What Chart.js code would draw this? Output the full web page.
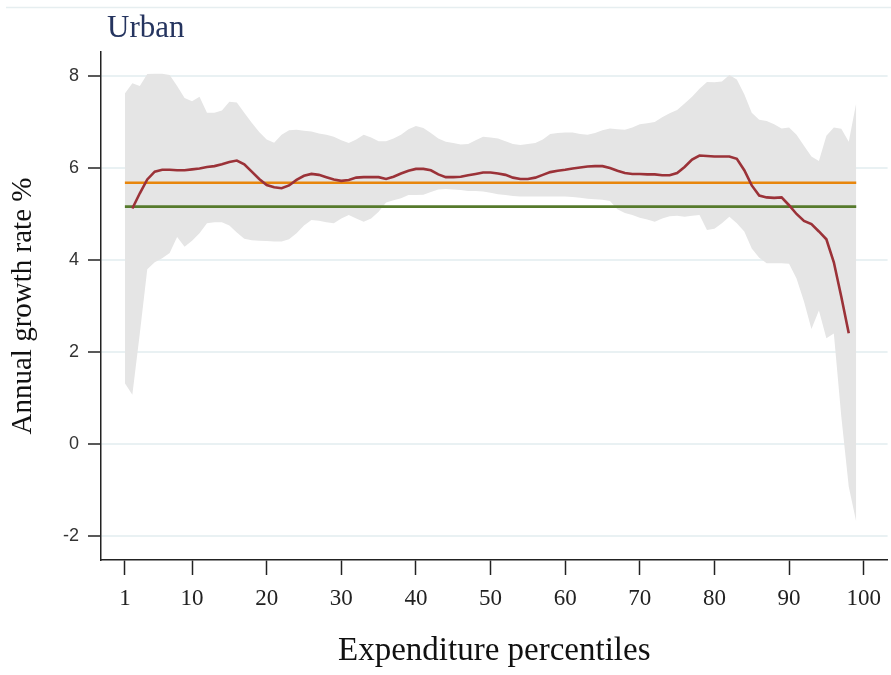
<!DOCTYPE html>
<html>
<head>
<meta charset="utf-8">
<script src="https://cdn.jsdelivr.net/npm/chart.js@4.4.1/dist/chart.umd.min.js"></script>
<style>
  html, body { margin: 0; padding: 0; background: #fff; }
  #wrap { width: 891px; height: 675px; position: relative; }
</style>
</head>
<body>
<div id="wrap"><canvas id="gic"></canvas></div>
<script>
// percentiles 1..99
const percentiles = [1,2,3,4,5,6,7,8,9,10,11,12,13,14,15,16,17,18,19,20,21,22,23,24,25,26,27,28,29,30,
  31,32,33,34,35,36,37,38,39,40,41,42,43,44,45,46,47,48,49,50,51,52,53,54,55,56,57,58,59,60,
  61,62,63,64,65,66,67,68,69,70,71,72,73,74,75,76,77,78,79,80,81,82,83,84,85,86,87,88,89,90,
  91,92,93,94,95,96,97,98,99];

// growth incidence curve (null where no estimate)
const growth = [null,5.12,5.45,5.75,5.92,5.96,5.96,5.95,5.95,5.97,5.99,6.02,6.04,6.08,6.13,6.16,6.08,5.92,5.76,5.63,
  5.58,5.56,5.62,5.74,5.83,5.87,5.85,5.80,5.75,5.72,5.74,5.79,5.80,5.80,5.80,5.76,5.81,5.88,5.94,5.98,
  5.98,5.95,5.86,5.80,5.80,5.81,5.84,5.87,5.90,5.90,5.88,5.85,5.79,5.76,5.76,5.79,5.85,5.91,5.94,5.96,
  5.99,6.01,6.03,6.04,6.04,6.00,5.94,5.89,5.87,5.87,5.86,5.86,5.84,5.84,5.89,6.02,6.18,6.27,6.26,6.25,
  6.25,6.25,6.20,5.95,5.62,5.40,5.36,5.35,5.36,5.19,5.00,4.85,4.78,4.62,4.45,3.95,3.20,2.41,null];

// confidence band
const ciUpper = [7.62,7.84,7.78,8.04,8.05,8.05,8.02,7.78,7.52,7.45,7.55,7.20,7.20,7.25,7.44,7.42,7.20,6.98,6.78,6.62,
  6.55,6.72,6.82,6.83,6.81,6.79,6.75,6.72,6.68,6.60,6.54,6.62,6.72,6.66,6.58,6.58,6.64,6.72,6.84,6.91,
  6.87,6.76,6.64,6.57,6.54,6.51,6.52,6.60,6.68,6.66,6.64,6.58,6.52,6.50,6.52,6.54,6.62,6.74,6.76,6.77,
  6.77,6.74,6.72,6.76,6.82,6.86,6.84,6.83,6.88,6.95,6.97,7.00,7.10,7.19,7.26,7.40,7.55,7.72,7.87,7.86,
  7.88,8.02,7.92,7.60,7.20,7.05,7.02,6.95,6.86,6.88,6.72,6.48,6.25,6.15,6.70,6.88,6.85,6.57,7.41];
const ciLower = [1.32,1.07,2.40,3.80,3.95,4.04,4.15,4.50,4.29,4.42,4.58,4.80,4.82,4.82,4.75,4.60,4.46,4.43,4.42,4.41,
  4.40,4.40,4.45,4.58,4.75,4.87,4.85,4.82,4.80,4.90,4.98,4.90,4.83,4.90,5.05,5.25,5.30,5.34,5.41,5.41,
  5.42,5.48,5.53,5.54,5.53,5.52,5.50,5.50,5.49,5.46,5.43,5.41,5.39,5.38,5.38,5.38,5.38,5.38,5.38,5.38,
  5.37,5.35,5.33,5.32,5.31,5.28,5.10,5.02,4.98,4.92,4.88,4.83,4.90,4.95,4.96,4.94,4.96,4.98,4.65,4.68,
  4.80,4.94,4.80,4.62,4.25,4.05,3.93,3.93,3.93,3.92,3.60,3.10,2.50,2.90,2.30,2.40,0.60,-0.93,-1.69];

// reference lines
const growthInMean = 5.68;
const meanOfGrowth = 5.16;
const refRange = [1, 99];

const xTicks = [1,10,20,30,40,50,60,70,80,90,100];
const yTicks = [-2,0,2,4,6,8];

function pts(vals) {
  return percentiles.map((p, i) => ({ x: p, y: vals[i] }));
}
function flat(v) {
  return refRange.map(p => ({ x: p, y: v }));
}

// titre du panneau + filet du haut
const panelDeco = {
  id: 'panelDeco',
  afterDraw(chart) {
    const c = chart.ctx;
    c.save();
    c.strokeStyle = '#e6eef0';
    c.lineWidth = 1.5;
    c.beginPath();
    c.moveTo(6, 7.5);
    c.lineTo(891, 7.5);
    c.stroke();
    c.fillStyle = '#25345f';
    c.font = '31px "Liberation Serif", serif';
    c.textBaseline = 'alphabetic';
    c.fillText('Urban', 107, 37);
    c.restore();
  }
};

const serif = '"Liberation Serif", "Times New Roman", serif';
const sans = '"Liberation Sans", Arial, sans-serif';

new Chart(document.getElementById('gic'), {
  type: 'line',
  data: {
    datasets: [
      { label: 'Growth incidence', data: pts(growth), borderColor: '#9b3238', borderWidth: 2.6,
        pointRadius: 0, fill: false, tension: 0, order: 0, spanGaps: false },
      { label: 'Growth in mean', data: flat(growthInMean), borderColor: '#e8860c', borderWidth: 2.6,
        pointRadius: 0, fill: false, order: 1 },
      { label: 'Mean of growth rates', data: flat(meanOfGrowth), borderColor: '#567a2c', borderWidth: 2.6,
        pointRadius: 0, fill: false, order: 2 },
      { label: 'CI upper', data: pts(ciUpper), borderWidth: 0, borderColor: 'rgba(0,0,0,0)',
        backgroundColor: '#e5e5e5', pointRadius: 0, fill: '+1', tension: 0, order: 3 },
      { label: 'CI lower', data: pts(ciLower), borderWidth: 0, borderColor: 'rgba(0,0,0,0)',
        pointRadius: 0, fill: false, tension: 0, order: 4 }
    ]
  },
  options: {
    responsive: true,
    maintainAspectRatio: false,
    animation: false,
    layout: { padding: { top: 52, right: 2, bottom: 0, left: 0 } },
    plugins: {
      legend: { display: false },
      tooltip: { enabled: false }
    },
    scales: {
      x: {
        type: 'linear',
        min: -2.2,
        max: 103.2,
        afterBuildTicks: s => { s.ticks = xTicks.map(v => ({ value: v })); },
        afterFit: s => { s.height = 115; },
        grid: { drawOnChartArea: false, tickLength: 15, tickColor: '#222', tickWidth: 1.5 },
        border: { color: '#222', width: 1.5 },
        ticks: { color: '#222', padding: 10, maxRotation: 0, autoSkip: false,
          font: { family: serif, size: 23 } },
        title: { display: true, text: 'Expenditure percentiles', color: '#111',
          font: { family: serif, size: 33 }, padding: { top: 0, bottom: 4 } }
      },
      y: {
        min: -2.52,
        max: 8.52,
        afterBuildTicks: s => { s.ticks = yTicks.map(v => ({ value: v })); },
        afterFit: s => { s.width = 101; },
        grid: { color: '#e9f1f3', lineWidth: 2, tickLength: 13, tickColor: '#222', tickWidth: 1.5 },
        border: { color: '#222', width: 1.5 },
        ticks: { color: '#333', padding: 9, font: { family: sans, size: 18 } },
        title: { display: true, text: 'Annual growth rate %', color: '#111',
          font: { family: serif, size: 29 }, padding: { top: 6, bottom: 0 } }
      }
    }
  },
  plugins: [panelDeco]
});
</script>
</body>
</html>
